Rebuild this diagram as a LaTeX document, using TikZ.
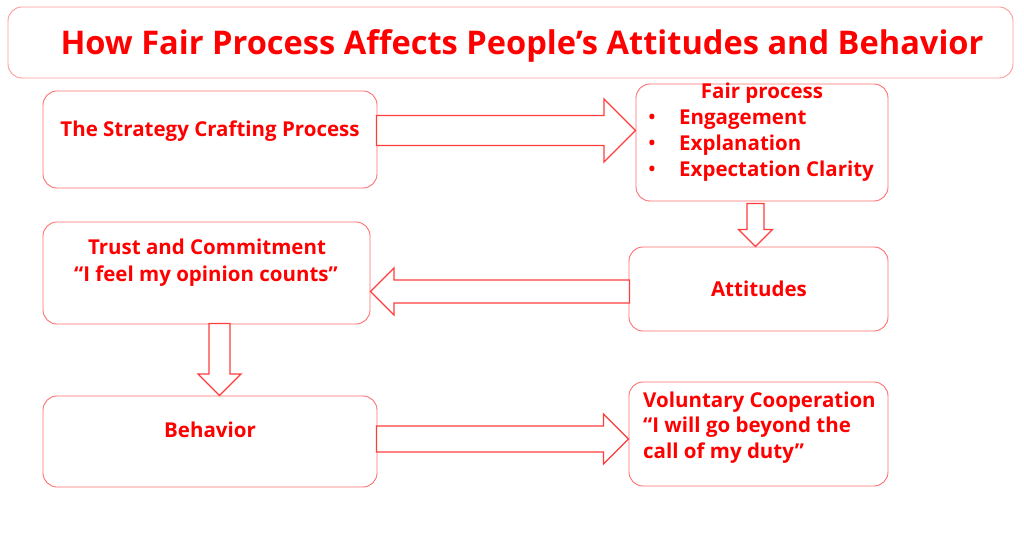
\documentclass[tikz,border=0pt]{standalone}
\usepackage{fontspec}
\setmainfont{Open Sans}
\definecolor{textred}{RGB}{255,0,0}
\definecolor{boxred}{RGB}{255,110,110}
\definecolor{arrowred}{RGB}{255,60,60}
% block arrow: tip, direction, length, half shaft, half head
\newcommand{\blockarrow}[5]{%
    \draw[fatarrow, shift={#1}, rotate=#2] (0,0) -- (-#5,-#5) -- (-#5,-#4) -- (-#3,-#4)
        -- (-#3,#4) -- (-#5,#4) -- (-#5,#5) -- cycle;}

\begin{document}
\begin{tikzpicture}[x=1pt,y=-1pt,
    box/.style={draw=boxred, line width=0.9pt, rounded corners=14pt, inner sep=0pt},
    txt/.style={text=textred, font=\bfseries\fontsize{20.5}{26}\selectfont, inner sep=0pt, anchor=base},
    item/.style={txt, anchor=base west},
    dot/.style={txt, font=\bfseries\fontsize{18}{26}\selectfont},
    fatarrow/.style={draw=arrowred, fill=white, line width=1.3pt}]
    \useasboundingbox (0,0) rectangle (1024,534);
    % boxes
    \node[box, draw=boxred!70, minimum width=1005pt, minimum height=71pt] (title) at (510.5,42.5) {};
    \node[box, minimum width=334pt, minimum height=97pt] (strat) at (210,139.5) {};
    \node[box, minimum width=252pt, minimum height=117pt] (fair) at (762,142.5) {};
    \node[box, minimum width=259pt, minimum height=84pt] (att) at (758.5,289) {};
    \node[box, minimum width=327pt, minimum height=102pt] (trust) at (206.5,273) {};
    \node[box, minimum width=334pt, minimum height=91pt] (beh) at (210,441.5) {};
    \node[box, minimum width=259pt, minimum height=104pt] (vol) at (758.5,434) {};
    % block arrows
    \blockarrow{(fair.west |- 0,130.5)}{0}{259}{15}{31.5}
    \blockarrow{(att.north -| 755.5,0)}{-90}{43}{8.5}{17}
    \blockarrow{(trust.east |- 0,291.5)}{180}{259}{11.5}{23.5}
    \blockarrow{(beh.north -| 219.5,0)}{-90}{72}{10.5}{21.5}
    \blockarrow{(vol.west |- 0,439)}{0}{252}{13}{25}
    % texts
    \node[txt, font=\bfseries\fontsize{32.6}{38}\selectfont] (titletext) at (522,55) {How Fair Process Affects People’s Attitudes and Behavior};
    \node[txt] (strattext) at (210,137) {The Strategy Crafting Process};
    \node[txt] (fairtext) at (762,99) {Fair process};
    \node[dot] (dotA) at (652,124) {•};
    \node[dot] (dotB) at (652,150) {•};
    \node[dot] (dotC) at (652,176) {•};
    \node[item] (engage) at (679,125) {Engagement};
    \node[item] (explain) at (679,151) {Explanation};
    \node[item] (expect) at (679,177) {Expectation Clarity};
    \node[txt] (atttext) at (759,296) {Attitudes};
    \node[txt] (trusttext) at (207,255) {Trust and Commitment};
    \node[txt] (opinion) at (206,282) {“I feel my opinion counts”};
    \node[txt] (behtext) at (210,437) {Behavior};
    \node[item] (volA) at (643,407) {Voluntary Cooperation};
    \node[item] (volB) at (643,432) {“I will go beyond the};
    \node[item] (volC) at (643,458) {call of my duty”};
\end{tikzpicture}
\end{document}
